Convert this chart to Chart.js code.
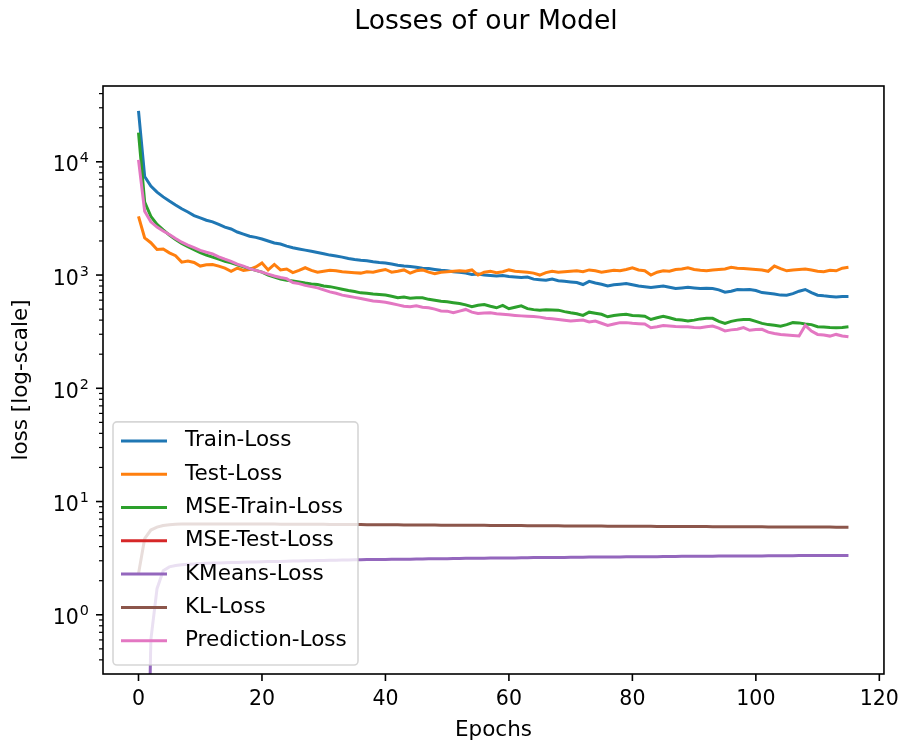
<!DOCTYPE html>
<html>
<head>
<meta charset="utf-8">
<title>Losses of our Model</title>
<script src="https://cdn.jsdelivr.net/npm/chart.js@4.4.1/dist/chart.umd.min.js"></script>
<style>
    body { margin: 0; background: #fff; }
    #lossChart { display: block; }
</style>
</head>
<body>
<canvas id="lossChart" width="912" height="747"></canvas>
<script>
// epochs 0..115
const epochs = Array.from({ length: 116 }, (_, i) => i);

const trainLoss = [
    28100, 7400, 6100, 5400, 4900, 4500, 4150, 3850, 3600, 3350,
    3200, 3050, 2950, 2800, 2650, 2550, 2400, 2300, 2200, 2150,
    2080, 2000, 1920, 1880, 1800, 1740, 1700, 1660, 1620, 1580,
    1540, 1500, 1470, 1440, 1400, 1370, 1350, 1340, 1310, 1290,
    1280, 1250, 1220, 1200, 1190, 1170, 1150, 1140, 1120, 1100,
    1090, 1070, 1060, 1040, 1010, 1020, 1000, 990, 980, 990,
    970, 960, 950, 960, 920, 910, 900, 920, 890, 880,
    870, 860, 825, 880, 850, 830, 800, 820, 830, 840,
    820, 800, 790, 777, 790, 800, 780, 760, 770, 780,
    770, 760, 765, 760, 740, 705, 720, 745, 740, 745,
    730, 700, 690, 680, 665, 664, 685, 720, 745, 700,
    664, 655, 648, 640, 645, 645
];

const testLoss = [
    3300, 2130, 1930, 1680, 1700, 1570, 1480, 1300, 1330, 1290,
    1200, 1230, 1240, 1200, 1150, 1080, 1150, 1100, 1120, 1180,
    1280, 1110, 1240, 1110, 1130, 1050, 1100, 1160, 1100, 1060,
    1080, 1100, 1090, 1070, 1060, 1050, 1040, 1070, 1060, 1090,
    1120, 1060, 1080, 1110, 1040, 1090, 1110, 1060, 1030, 1060,
    1070, 1080, 1090, 1080, 1110, 1000, 1060, 1080, 1050, 1070,
    1110, 1080, 1070, 1060, 1040, 1000, 1050, 1080, 1060, 1070,
    1080, 1090, 1070, 1110, 1090, 1060, 1080, 1100, 1090, 1120,
    1160, 1110, 1090, 1000, 1060, 1090, 1080, 1120, 1130, 1160,
    1120, 1100, 1090, 1110, 1120, 1130, 1170, 1150, 1140, 1130,
    1120, 1110, 1080, 1200, 1140, 1090, 1110, 1120, 1130, 1110,
    1080, 1070, 1100, 1090, 1150, 1170
];

const mseTrainLoss = [
    18100, 4400, 3300, 2800, 2500, 2250, 2060, 1900, 1780, 1680,
    1580, 1500, 1440, 1380, 1320, 1280, 1230, 1180, 1140, 1100,
    1060, 1000, 960, 920, 900, 885, 870, 850, 835, 824,
    800, 790, 770, 750, 730, 715, 696, 690, 680, 673,
    665, 650, 630, 640, 625, 630, 630, 610, 600, 588,
    580, 570, 561, 545, 525, 540, 549, 530, 514, 540,
    504, 520, 535, 505, 495, 490, 495, 492, 490, 475,
    464, 455, 440, 470, 460, 450, 428, 440, 445, 450,
    440, 438, 433, 405, 420, 433, 420, 405, 400, 392,
    400, 410, 415, 415, 390, 374, 390, 400, 405, 405,
    390, 374, 365, 360, 354, 365, 380, 378, 370, 365,
    350, 348, 345, 343, 345, 350
];

// not visible in the picture
const mseTestLoss = [];

const kmeansLoss = [
    0.00001, 0.001, 0.6, 1.7, 2.45, 2.65, 2.72, 2.76, 2.79, 2.81,
    2.83, 2.85, 2.86, 2.87, 2.88, 2.89, 2.9, 2.91, 2.92, 2.93,
    2.94, 2.95, 2.96, 2.96, 2.97, 2.98, 2.99, 3.0, 3.0, 3.01,
    3.02, 3.03, 3.03, 3.04, 3.05, 3.06, 3.06, 3.07, 3.07, 3.08,
    3.08, 3.09, 3.09, 3.1, 3.1, 3.11, 3.11, 3.12, 3.12, 3.13,
    3.13, 3.14, 3.14, 3.15, 3.15, 3.16, 3.16, 3.17, 3.17, 3.18,
    3.18, 3.18, 3.19, 3.19, 3.2, 3.2, 3.2, 3.21, 3.21, 3.21,
    3.22, 3.22, 3.22, 3.23, 3.23, 3.23, 3.24, 3.24, 3.24, 3.25,
    3.25, 3.25, 3.26, 3.26, 3.26, 3.27, 3.27, 3.27, 3.28, 3.28,
    3.28, 3.29, 3.29, 3.29, 3.3, 3.3, 3.3, 3.3, 3.31, 3.31,
    3.31, 3.31, 3.32, 3.32, 3.32, 3.32, 3.32, 3.33, 3.33, 3.33,
    3.33, 3.33, 3.34, 3.34, 3.34, 3.34
];

const klLoss = [
    2.3, 4.7, 5.6, 5.95, 6.15, 6.25, 6.3, 6.32, 6.33, 6.34,
    6.34, 6.34, 6.34, 6.34, 6.34, 6.34, 6.33, 6.33, 6.33, 6.33,
    6.32, 6.32, 6.32, 6.31, 6.31, 6.31, 6.3, 6.3, 6.3, 6.29,
    6.29, 6.28, 6.28, 6.27, 6.27, 6.26, 6.26, 6.25, 6.25, 6.24,
    6.24, 6.23, 6.23, 6.22, 6.22, 6.21, 6.21, 6.2, 6.2, 6.19,
    6.19, 6.18, 6.18, 6.17, 6.17, 6.16, 6.16, 6.15, 6.15, 6.14,
    6.14, 6.13, 6.13, 6.12, 6.12, 6.11, 6.11, 6.1, 6.1, 6.09,
    6.09, 6.08, 6.08, 6.08, 6.07, 6.07, 6.06, 6.06, 6.06, 6.05,
    6.05, 6.04, 6.04, 6.04, 6.03, 6.03, 6.03, 6.02, 6.02, 6.02,
    6.01, 6.01, 6.01, 6.0, 6.0, 6.0, 5.99, 5.99, 5.99, 5.98,
    5.98, 5.98, 5.97, 5.97, 5.97, 5.96, 5.96, 5.96, 5.96, 5.95,
    5.95, 5.95, 5.95, 5.94, 5.94, 5.94
];

const predictionLoss = [
    10400, 3650, 2950, 2650, 2450, 2280, 2100, 1950, 1840, 1750,
    1650, 1590, 1540, 1450, 1380, 1320, 1250, 1200, 1140, 1100,
    1060, 1020, 980, 950, 930, 860, 840, 810, 790, 770,
    740, 710, 690, 665, 650, 635, 620, 605, 590, 585,
    575, 560, 545, 531, 525, 535, 520, 514, 500, 482,
    480, 464, 480, 497, 470, 458, 462, 464, 455, 450,
    445, 440, 436, 433, 430, 425, 415, 411, 405, 398,
    392, 396, 400, 385, 392, 375, 359, 370, 380, 380,
    375, 372, 370, 343, 350, 359, 355, 352, 350, 350,
    345, 343, 350, 355, 340, 321, 328, 332, 343, 325,
    330, 332, 313, 305, 299, 296, 293, 290, 359, 320,
    299, 296, 289, 299, 290, 285
];

const seriesNames = ["Train-Loss", "Test-Loss", "MSE-Train-Loss", "MSE-Test-Loss",
    "KMeans-Loss", "KL-Loss", "Prediction-Loss"];
const seriesValues = [trainLoss, testLoss, mseTrainLoss, mseTestLoss,
    kmeansLoss, klLoss, predictionLoss];
const seriesColors = ["#1f77b4", "#ff7f0e", "#2ca02c", "#d62728",
    "#9467bd", "#8c564b", "#e377c2"];

const chartTitle = "Losses of our Model";
const xTicks = [0, 20, 40, 60, 80, 100, 120];
const yMajorTicks = [1, 10, 100, 1000, 10000];
const yTickExponents = ["0", "1", "2", "3", "4"];   // shown as 10^n
const xMin = -5.75, xMax = 120.75;
const yMin = 0.308, yMax = 46700;

const FONT = "DejaVu Sans";
const TEXT_SIZE = 21.5;
const TICK_SIZE = 20.5;

// minor log ticks 2..9 x 10^n, inside the y range
function logTicks() {
    const out = [];
    [0.1, 1, 10, 100, 1000, 10000].forEach(d => {
        for (let m = 1; m <= 9; m++) {
            const v = m * d;
            if (v >= yMin && v <= yMax) out.push(v);
        }
    });
    return out;
}
const yAllTicks = logTicks();

// title, frame, ticks, 10^n labels and the legend box, drawn like matplotlib
const mplDecor = {
    id: "mplDecor",
    afterDatasetsDraw(chart) {
        const { ctx, chartArea: a, scales } = chart;
        const x = scales.x, y = scales.y;
        ctx.save();

        ctx.fillStyle = "#000";
        ctx.font = "26.6px '" + FONT + "'";
        ctx.textAlign = "center";
        ctx.textBaseline = "middle";
        ctx.fillText(chartTitle, 486, 22);

        ctx.strokeStyle = "#000";
        ctx.lineWidth = 1.6;
        ctx.strokeRect(a.left, a.top, a.right - a.left, a.bottom - a.top);

        x.ticks.forEach(t => {
            const px = x.getPixelForValue(t.value);
            ctx.beginPath();
            ctx.moveTo(px, a.bottom);
            ctx.lineTo(px, a.bottom + 7);
            ctx.stroke();
        });
        y.ticks.forEach(t => {
            const py = y.getPixelForValue(t.value);
            const k = yMajorTicks.indexOf(t.value);
            ctx.lineWidth = k >= 0 ? 1.6 : 1.2;
            ctx.beginPath();
            ctx.moveTo(a.left, py);
            ctx.lineTo(a.left - (k >= 0 ? 7 : 4), py);
            ctx.stroke();
            if (k >= 0) {
                // "10" with a raised, smaller exponent
                const supSize = TICK_SIZE * 0.7;
                ctx.textBaseline = "alphabetic";
                ctx.textAlign = "right";
                ctx.font = supSize + "px '" + FONT + "'";
                const right = a.left - 14;
                const supW = ctx.measureText(yTickExponents[k]).width;
                ctx.fillText(yTickExponents[k], right, py + 9.5 - 9);
                ctx.font = TICK_SIZE + "px '" + FONT + "'";
                ctx.fillText("10", right - supW - 1, py + 9.5);
            }
        });

        // legend, lower left
        const lx = a.left + 10, lw = 245, rowH = 33.3;
        const n = chart.data.datasets.length;
        const lh = n * rowH + 10;
        const ly = a.bottom - 9 - lh;
        ctx.beginPath();
        ctx.roundRect(lx, ly, lw, lh, 4);
        ctx.fillStyle = "rgba(255,255,255,0.8)";
        ctx.fill();
        ctx.strokeStyle = "rgba(204,204,204,0.8)";
        ctx.lineWidth = 1.6;
        ctx.stroke();

        ctx.font = TEXT_SIZE + "px '" + FONT + "'";
        ctx.textBaseline = "middle";
        ctx.textAlign = "left";
        chart.data.datasets.forEach((ds, i) => {
            const ry = ly + 19 + i * rowH;
            ctx.strokeStyle = ds.borderColor;
            ctx.lineWidth = 3;
            ctx.beginPath();
            ctx.moveTo(lx + 8, ry);
            ctx.lineTo(lx + 54, ry);
            ctx.stroke();
            ctx.fillStyle = "#000";
            ctx.fillText(ds.label, lx + 72, ry);
        });
        ctx.restore();
    }
};

const datasets = seriesNames.map((name, i) => ({
    label: name,
    data: seriesValues[i].map((v, j) => ({ x: epochs[j], y: v })),
    borderColor: seriesColors[i],
    backgroundColor: seriesColors[i],
    borderWidth: 3,
    pointRadius: 0,
    tension: 0,
    fill: false,
    // later series on top, as in matplotlib
    order: seriesNames.length - i
}));

const chart = new Chart(document.getElementById("lossChart"), {
    type: "line",
    data: { datasets: datasets },
    options: {
        responsive: false,
        animation: false,
        devicePixelRatio: 1,
        layout: { padding: { left: 0, right: 18, top: 86, bottom: 0 } },
        plugins: {
            legend: { display: false },
            tooltip: { enabled: false },
            title: { display: false, text: chartTitle }
        },
        scales: {
            x: {
                type: "linear",
                min: xMin,
                max: xMax,
                afterBuildTicks: s => { s.ticks = xTicks.map(v => ({ value: v })); },
                afterFit: s => { s.height = 73; },
                grid: { display: false, drawTicks: false },
                border: { display: false },
                ticks: {
                    color: "#000",
                    font: { family: FONT, size: TICK_SIZE },
                    padding: 13,
                    maxRotation: 0,
                    autoSkip: false
                },
                title: {
                    display: true,
                    text: "Epochs",
                    color: "#000",
                    font: { family: FONT, size: TEXT_SIZE },
                    padding: { top: 0, bottom: 4 }
                }
            },
            y: {
                type: "logarithmic",
                min: yMin,
                max: yMax,
                afterBuildTicks: s => { s.ticks = yAllTicks.map(v => ({ value: v })); },
                afterFit: s => { s.width = 103; },
                grid: { display: false, drawTicks: false },
                border: { display: false },
                ticks: {
                    // labels are drawn as 10^n by mplDecor
                    display: false,
                    autoSkip: false
                },
                title: {
                    display: true,
                    text: "loss [log-scale]",
                    color: "#000",
                    font: { family: FONT, size: TEXT_SIZE },
                    padding: { top: 9, bottom: 0 }
                }
            }
        }
    },
    plugins: [mplDecor]
});
</script>
</body>
</html>
